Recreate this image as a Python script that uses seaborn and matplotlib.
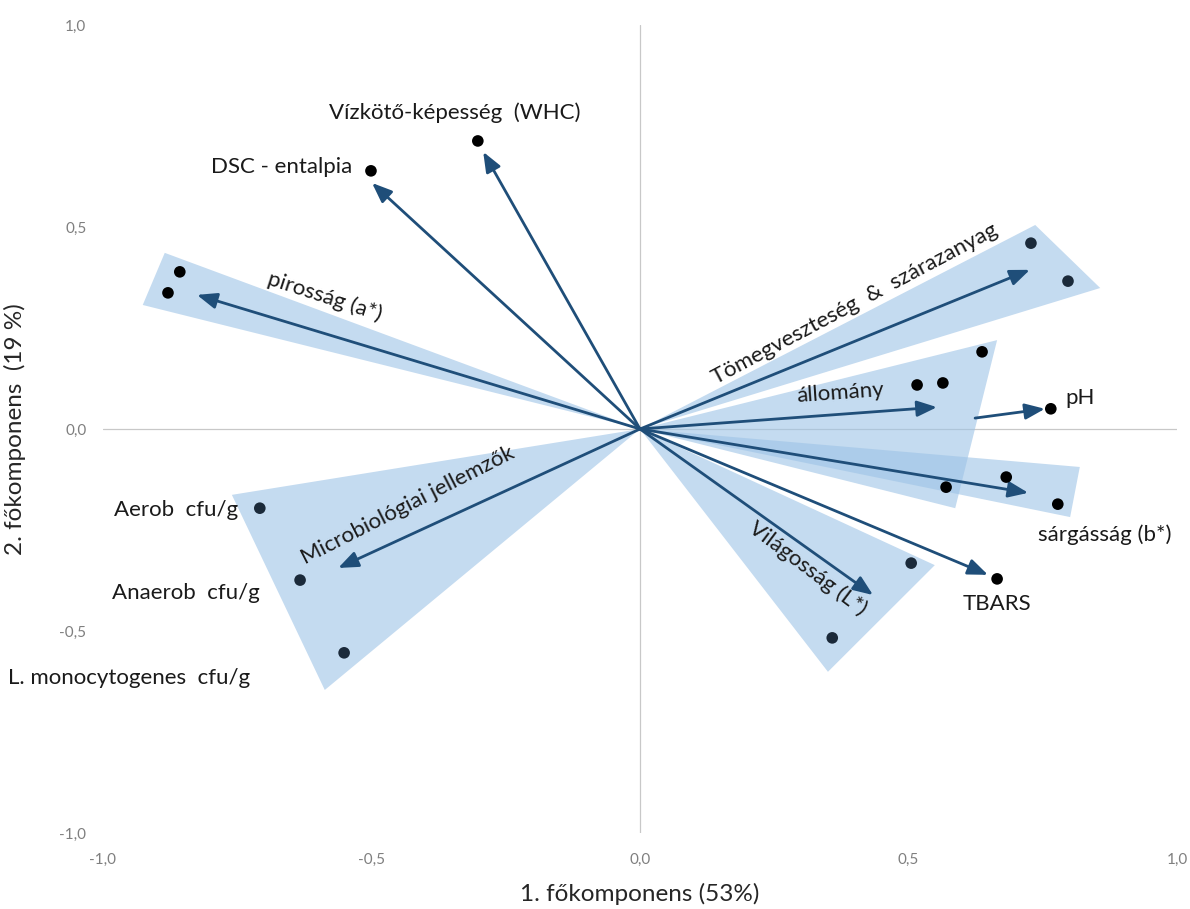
import numpy as np
import pandas as pd
import matplotlib
matplotlib.use("Agg")
import matplotlib.pyplot as plt
import seaborn as sns
from matplotlib.ticker import FuncFormatter

# ---------------- data ----------------
# variable points (PC1, PC2)
point_names = ["WHC", "DSC", "pir1", "pir2", "tom1", "tom2", "all1", "all2", "all3",
               "pH", "sar1", "sar2", "sar3", "TBARS", "vil1", "vil2",
               "Aerob", "Anaerob", "Lmono"]
point_pc1 = [-0.302, -0.501, -0.857, -0.879, 0.728, 0.797, 0.637, 0.516, 0.564,
             0.765, 0.570, 0.682, 0.778, 0.665, 0.505, 0.358,
             -0.708, -0.633, -0.551]
point_pc2 = [0.713, 0.639, 0.389, 0.337, 0.460, 0.366, 0.191, 0.109, 0.114,
             0.050, -0.144, -0.119, -0.186, -0.371, -0.332, -0.517,
             -0.196, -0.374, -0.554]
point_group = ["black", "black", "black", "black", "navy", "navy", "black", "black", "black",
               "black", "black", "black", "black", "black", "navy", "navy",
               "navy", "navy", "navy"]

# group arrows: start (x0,y0) -> tip (x1,y1)
arrow_names = ["WHC", "DSC", "pirosság", "Tömeg", "állomány", "pH",
               "sárgásság", "TBARS", "Világosság", "Micro"]
arrow_x0 = [0, 0, 0, 0, 0, 0.624, 0, 0, 0, 0]
arrow_y0 = [0, 0, 0, 0, 0, 0.027, 0, 0, 0, 0]
arrow_x1 = [-0.292, -0.499, -0.825, 0.726, 0.553, 0.754, 0.723, 0.648, 0.434, -0.562]
arrow_y1 = [0.686, 0.609, 0.332, 0.394, 0.054, 0.050, -0.158, -0.361, -0.411, -0.344]

# group wedges (triangles from origin): two outer vertices each
wedge_names = ["pirosság", "Tömeg", "állomány", "sárgásság", "Világosság", "Micro"]
wedge_ax = [-0.885, 0.736, 0.665, 0.819, 0.549, -0.760]
wedge_ay = [0.436, 0.505, 0.220, -0.094, -0.337, -0.163]
wedge_bx = [-0.926, 0.857, 0.587, 0.801, 0.350, -0.587]
wedge_by = [0.307, 0.349, -0.196, -0.218, -0.601, -0.646]

# text labels
label_texts = ["Vízkötő-képesség  (WHC)", "DSC - entalpia", "pirosság (a*)",
               "Tömegveszteség  &  szárazanyag", "állomány", "pH", "sárgásság (b*)",
               "TBARS", "Világosság (L*)", "Microbiológiai jellemzők",
               "Aerob  cfu/g", "Anaerob  cfu/g", "L. monocytogenes  cfu/g"]

tick_values = [-1.0, -0.5, 0.0, 0.5, 1.0]
x_title = "1. főkomponens (53%)"
y_title = "2. főkomponens  (19 %)"

# ---------------- layout ----------------
label_x = [-0.345, -0.536, -0.587, 0.400, 0.372, 0.793, 0.866, 0.665, 0.313, -0.432,
           -0.749, -0.708, -0.726]
label_y = [0.782, 0.649, 0.327, 0.309, 0.089, 0.077, -0.262, -0.433, -0.346, -0.188,
           -0.200, -0.406, -0.616]
label_rot = [0, 0, -18, 28, 4, 0, 0, 0, -37, 27, 0, 0, 0]
label_ha = ["center", "right", "center", "center", "center", "left", "center",
            "center", "center", "center", "right", "right", "right"]

sns.set_theme(style="white")
plt.rcParams['font.family'] = ['Lato', 'DejaVu Sans']

fig = plt.figure(figsize=(11.9, 9.09), dpi=100)
ax = fig.add_axes([103 / 1190, 1 - 833 / 909, (1177 - 103) / 1190, (833 - 25) / 909])

ax.set_xlim(-1, 1)
ax.set_ylim(-1, 1)

# axes lines
ax.axhline(0, color="#c8c8c8", lw=0.9, zorder=0)
ax.axvline(0, color="#c8c8c8", lw=0.9, zorder=0)

# wedges
for ax_, ay_, bx_, by_ in zip(wedge_ax, wedge_ay, wedge_bx, wedge_by):
    ax.fill([0, ax_, bx_], [0, ay_, by_], color="#9DC3E6", alpha=0.6, lw=0, zorder=1)

# arrows
for x0, y0, x1, y1 in zip(arrow_x0, arrow_y0, arrow_x1, arrow_y1):
    ax.annotate("", xy=(x1, y1), xytext=(x0, y0),
                arrowprops=dict(arrowstyle="-|>,head_length=1.0,head_width=0.4",
                                color="#1F4E79", lw=2.0, shrinkA=0, shrinkB=0),
                zorder=3)

# points
df = pd.DataFrame({"pc1": point_pc1, "pc2": point_pc2, "grp": point_group})
sns.scatterplot(data=df, x="pc1", y="pc2", hue="grp",
                palette={"black": "#000000", "navy": "#1B2A3A"},
                s=70, edgecolor="none", legend=False, ax=ax, zorder=4)

# labels
for t, x, y, r, ha in zip(label_texts, label_x, label_y, label_rot, label_ha):
    ax.text(x, y, t, rotation=r, ha=ha, va="center", fontsize=16,
            color="#1a1a1a", rotation_mode="anchor", zorder=5)

# ticks
ax.set_xticks(tick_values)
ax.set_yticks(tick_values)
fmt = FuncFormatter(lambda v, p: f"{v:.1f}".replace(".", ","))
ax.xaxis.set_major_formatter(fmt)
ax.yaxis.set_major_formatter(fmt)
ax.tick_params(axis="both", length=0, labelsize=11, labelcolor="#7f7f7f")
ax.tick_params(axis="x", pad=14)
ax.tick_params(axis="y", pad=12)
for s in ax.spines.values():
    s.set_visible(False)

ax.set_xlabel(x_title, fontsize=17.5, color="#262626", labelpad=12)
ax.set_ylabel(y_title, fontsize=17.5, color="#262626", labelpad=24)

fig.savefig("out.png", dpi=100)
